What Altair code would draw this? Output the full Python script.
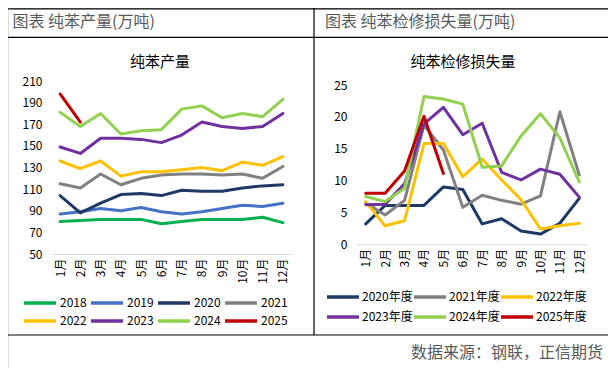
import altair as alt
import pandas as pd

FONT = "Noto Sans CJK SC"

months = [f"{i}月" for i in range(1, 13)]

# ---- left panel: 纯苯产量 (万吨)
years_left = ["2018", "2019", "2020", "2021", "2022", "2023", "2024", "2025"]
colors_left = ["#00B050", "#4472C4", "#203864", "#808080", "#FFC000", "#7030A0", "#92D050", "#C00000"]
output_2018 = [80, 81, 82, 82, 82, 78, 80, 82, 82, 82, 84, 79]
output_2019 = [87, 89, 92, 90, 93, 89, 87, 89, 92, 95, 94, 97]
output_2020 = [104, 88, 97, 105, 106, 104, 109, 108, 108, 111, 113, 114]
output_2021 = [115, 111, 124, 114, 120, 123, 124, 124, 123, 124, 120, 131]
output_2022 = [136, 129, 136, 122, 126, 126, 128, 130, 127, 135, 132, 140]
output_2023 = [149, 143, 157, 157, 156, 153, 160, 172, 168, 166, 168, 180]
output_2024 = [181, 168, 180, 161, 164, 165, 184, 187, 176, 180, 177, 193]
output_2025 = [198, 172]
left_ticks = [50, 70, 90, 110, 130, 150, 170, 190, 210]

# ---- right panel: 纯苯检修损失量 (万吨)
years_right = ["2020年度", "2021年度", "2022年度", "2023年度", "2024年度", "2025年度"]
colors_right = ["#203864", "#808080", "#FFC000", "#7030A0", "#92D050", "#C00000"]
loss_2020 = [3.2, 6.1, 6.1, 6.1, 9.0, 8.6, 3.2, 4.0, 2.1, 1.6, 3.3, 7.2]
loss_2021 = [6.5, 4.6, 6.9, 18.7, 14.8, 5.8, 7.7, 6.9, 6.3, 7.6, 20.8, 10.9]
loss_2022 = [6.7, 2.9, 3.7, 15.8, 15.8, 10.6, 13.4, 10.1, 7.0, 2.4, 2.9, 3.3]
loss_2023 = [6.2, 6.3, 9.5, 18.9, 21.5, 17.2, 19.0, 11.3, 10.1, 11.8, 11.0, 7.4]
loss_2024 = [7.5, 6.7, 8.8, 23.2, 22.8, 22.0, 12.1, 12.3, 17.0, 20.5, 16.7, 9.8]
loss_2025 = [8.0, 8.0, 11.5, 20.1, 11.1]
right_ticks = [0, 5, 10, 15, 20, 25]

left_series = [output_2018, output_2019, output_2020, output_2021,
               output_2022, output_2023, output_2024, output_2025]
right_series = [loss_2020, loss_2021, loss_2022, loss_2023, loss_2024, loss_2025]

left_rows = []
for y, vals in zip(years_left, left_series):
    for m, v in zip(months, vals):
        left_rows.append({"month": m, "year": y, "value": v})
df_left = pd.DataFrame(left_rows)

right_rows = []
for y, vals in zip(years_right, right_series):
    for m, v in zip(months, vals):
        right_rows.append({"month_r": m, "season": y, "loss": v})
df_right = pd.DataFrame(right_rows)

W, H = 600, 360
LINE_SYMBOL = "M-8,0L8,0"

left_lines = alt.Chart(df_left).mark_line(strokeWidth=3, strokeJoin="round", strokeCap="round").encode(
    x=alt.X("month:O", sort=months,
            scale=alt.Scale(range=[44, 283], padding=0.4),
            axis=alt.Axis(orient="bottom", offset=-114, title=None, labelAngle=270,
                          ticks=False, grid=False, domainColor="#D9D9D9", domainWidth=1,
                          labelPadding=4, labelFont=FONT, labelFontSize=12, labelColor="#000000")),
    y=alt.Y("value:Q",
            scale=alt.Scale(domain=[50, 210], range=[246, 73], nice=False, zero=False),
            axis=alt.Axis(orient="left", offset=-44, title=None, values=left_ticks,
                          ticks=False, domain=False, grid=False, labelPadding=10,
                          labelFont=FONT, labelFontSize=12, labelColor="#000000")),
    color=alt.Color("year:N",
                    scale=alt.Scale(domain=years_left, range=colors_left),
                    legend=alt.Legend(orient="none", legendX=26, legendY=289, direction="horizontal",
                                      columns=4, title=None, symbolType=LINE_SYMBOL, symbolSize=16,
                                      symbolStrokeWidth=3.5, labelFont=FONT, labelFontSize=12,
                                      labelColor="#000000", columnPadding=-3, rowPadding=4,
                                      labelOffset=14, padding=0)),
)

right_lines = alt.Chart(df_right).mark_line(strokeWidth=3, strokeJoin="round", strokeCap="round").encode(
    x=alt.X("month_r:O", sort=months,
            scale=alt.Scale(range=[349, 580], padding=0.45),
            axis=alt.Axis(orient="bottom", offset=-123.7, title=None, labelAngle=270,
                          ticks=False, grid=False, domainColor="#D9D9D9", domainWidth=1,
                          labelPadding=4, labelFont=FONT, labelFontSize=12, labelColor="#000000")),
    y=alt.Y("loss:Q",
            scale=alt.Scale(domain=[0, 25], range=[236.3, 77], nice=False),
            axis=alt.Axis(orient="left", offset=-349, title=None, values=right_ticks,
                          ticks=False, domain=False, grid=False, labelPadding=10,
                          labelFont=FONT, labelFontSize=12, labelColor="#000000")),
    color=alt.Color("season:N",
                    scale=alt.Scale(domain=years_right, range=colors_right),
                    legend=alt.Legend(orient="none", legendX=329, legendY=283, direction="horizontal",
                                      columns=3, title=None, symbolType=LINE_SYMBOL, symbolSize=16,
                                      symbolStrokeWidth=3.5, labelFont=FONT, labelFontSize=12,
                                      labelColor="#000000", columnPadding=-6, rowPadding=6,
                                      labelOffset=13, padding=0)),
)

dummy = pd.DataFrame({"d": [0]})


def text_layer(txt, x, y, size, color="#000000", align="left"):
    return alt.Chart(dummy).mark_text(text=txt, font=FONT, fontSize=size, color=color,
                                      align=align, baseline="middle").encode(
        x=alt.value(x), y=alt.value(y))


def hrule(y, x1=0, x2=W, w=1.2):
    return alt.Chart(dummy).mark_rule(color="#000000", strokeWidth=w).encode(
        x=alt.value(x1), x2=alt.value(x2), y=alt.value(y), y2=alt.value(y))


def vrule(x, y1, y2, w=1.2):
    return alt.Chart(dummy).mark_rule(color="#000000", strokeWidth=w).encode(
        x=alt.value(x), x2=alt.value(x), y=alt.value(y1), y2=alt.value(y2))


decor = [
    hrule(0.8),
    hrule(29.3),
    hrule(327),
    vrule(306, 0, 327),
    text_layer("图表 纯苯产量(万吨)", 4.5, 14, 16, "#595959"),
    text_layer("图表  纯苯检修损失量(万吨)", 317, 14, 16, "#595959"),
    text_layer("纯苯产量", 152, 54, 15, align="center"),
    text_layer("纯苯检修损失量", 455, 54, 15, align="center"),
    text_layer("数据来源：钢联，正信期货", 595, 345, 16, "#595959", align="right"),
]

chart = alt.layer(left_lines, right_lines, *decor).resolve_scale(
    x="independent", y="independent", color="independent"
).resolve_axis(
    x="independent", y="independent"
).resolve_legend(
    color="independent"
).properties(
    width=W, height=H, padding=0, autosize=alt.AutoSizeParams(type="none")
).configure_view(stroke=None).configure(background="#FFFFFF")

chart.save("out.html", embed_options={"renderer": "svg", "actions": False})
